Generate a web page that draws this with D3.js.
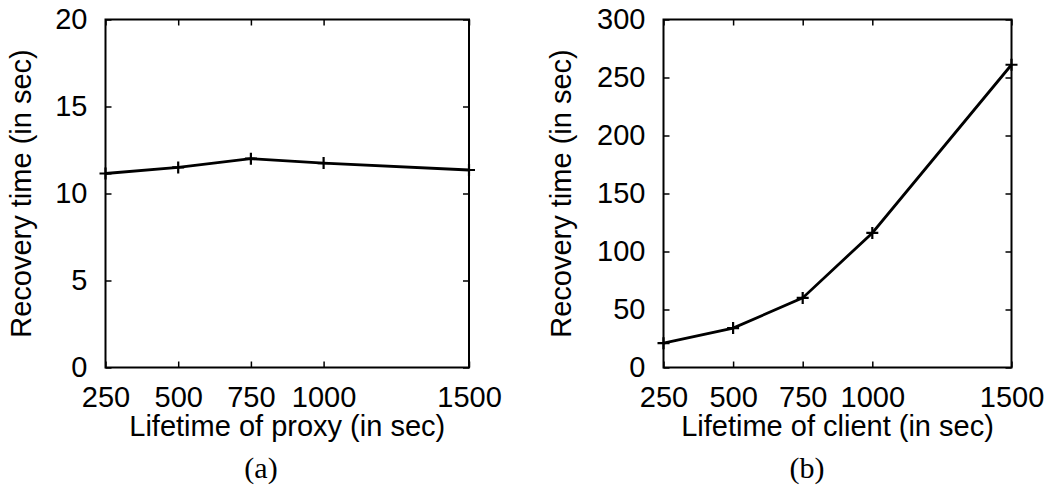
<!DOCTYPE html>
<html>
<head>
<meta charset="utf-8">
<script src="https://cdn.jsdelivr.net/npm/d3@7"></script>
<style>
  body { margin: 0; background: #fff; }
  text { font-family: "Liberation Sans", Arial, sans-serif; fill: #000; }
</style>
</head>
<body>
<div id="canvas"></div>
<script>
// lifetimes on the x axis (same for both panels)
const lifetimes = [250, 500, 750, 1000, 1500];
// recovery time, panel (a): lifetime of proxy
const proxyRecovery = [11.15, 11.5, 12.0, 11.75, 11.35];
// recovery time, panel (b): lifetime of client
const clientRecovery = [21, 34, 60, 116, 261];
const yTicksA = [0, 5, 10, 15, 20];
const yTicksB = [0, 50, 100, 150, 200, 250, 300];

const svg = d3.select('#canvas').append('svg').attr('width', 1055).attr('height', 489);

const panels = [
    {left: 105.5, right: 469, yMax: 20, yTicks: yTicksA, values: proxyRecovery,
     xTitle: 'Lifetime of proxy (in sec)', yTitleX: 31, caption: '(a)', capX: 261},
    {left: 663.5, right: 1011.5, yMax: 300, yTicks: yTicksB, values: clientRecovery,
     xTitle: 'Lifetime of client (in sec)', yTitleX: 571, caption: '(b)', capX: 807}
];
const plotTop = 19.5, plotBottom = 367.5;
const fontSize = '29px';

panels.forEach(p => {
    const x = d3.scaleLinear().domain([250, 1500]).range([p.left, p.right]);
    const y = d3.scaleLinear().domain([0, p.yMax]).range([plotBottom, plotTop]);
    const g = svg.append('g');

    const style = sel => {
        sel.select('.domain').remove();
        sel.selectAll('line').attr('stroke', '#000').attr('stroke-width', 1.5);
        sel.selectAll('text').style('font-size', fontSize);
    };

    g.append('g').attr('transform', `translate(0,${plotBottom})`)
        .call(d3.axisBottom(x).tickValues(lifetimes).tickSize(-6).tickPadding(19).tickFormat(d3.format('d')))
        .call(style);
    g.append('g').attr('transform', `translate(0,${plotTop})`)
        .call(d3.axisTop(x).tickValues(lifetimes).tickSize(-6).tickFormat(''))
        .call(style);
    g.append('g').attr('transform', `translate(${p.left},0)`)
        .call(d3.axisLeft(y).tickValues(p.yTicks).tickSize(-6).tickPadding(18).tickFormat(d3.format('d')))
        .call(style);
    g.append('g').attr('transform', `translate(${p.right},0)`)
        .call(d3.axisRight(y).tickValues(p.yTicks).tickSize(-6).tickFormat(''))
        .call(style);

    g.append('rect')
        .attr('x', p.left).attr('y', plotTop)
        .attr('width', p.right - p.left).attr('height', plotBottom - plotTop)
        .attr('fill', 'none').attr('stroke', '#000').attr('stroke-width', 2);

    const pts = lifetimes.map((l, i) => [l, p.values[i]]);
    g.append('path')
        .attr('d', d3.line().x(d => x(d[0])).y(d => y(d[1]))(pts))
        .attr('fill', 'none').attr('stroke', '#000').attr('stroke-width', 2.8);

    g.selectAll('.mark').data(pts).enter().append('path')
        .attr('d', d => `M${x(d[0]) - 6},${y(d[1])}h12M${x(d[0])},${y(d[1]) - 6}v12`)
        .attr('stroke', '#000').attr('stroke-width', 2.2);

    g.append('text')
        .attr('x', (p.left + p.right) / 2).attr('y', 436)
        .attr('text-anchor', 'middle').style('font-size', fontSize)
        .text(p.xTitle);

    g.append('text')
        .attr('transform', `translate(${p.yTitleX},${(plotTop + plotBottom) / 2}) rotate(-90)`)
        .attr('text-anchor', 'middle').style('font-size', fontSize)
        .text('Recovery time (in sec)');

    g.append('text')
        .attr('x', p.capX).attr('y', 478)
        .attr('text-anchor', 'middle')
        .style('font-family', '"Liberation Serif", "DejaVu Serif", serif')
        .style('font-size', '30px')
        .text(p.caption);
});
</script>
</body>
</html>
